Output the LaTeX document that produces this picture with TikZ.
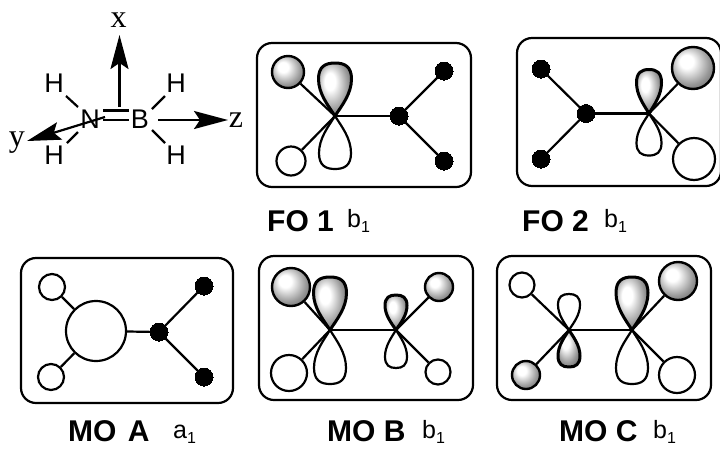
\documentclass[tikz,border=0pt]{standalone}
\usepackage{fontspec}
\setmainfont{Liberation Sans}
\newfontfamily\axisfont{Liberation Serif}
\usetikzlibrary{arrows.meta}
\pgfdeclareradialshading{orb}{\pgfpoint{-9bp}{9bp}}{color(0bp)=(white); color(8bp)=(white); color(24bp)=(black!40); color(38bp)=(black!68); color(50bp)=(black!78)}
\tikzset{
  x=1pt,y=-1pt,
  panel/.style={draw=black,line width=2.2pt,rounded corners=15pt},
  bond/.style={draw=black,line width=2.2pt},
  blackdot/.style={circle,fill=black,draw=black,line width=0pt,inner sep=0pt,minimum size=#1},
  whiteorb/.style={circle,fill=white,draw=black,line width=2.2pt,inner sep=0pt,minimum size=#1},
  grayorb/.style={circle,shading=orb,draw=black,line width=2.4pt,inner sep=0pt,minimum size=#1},
  whitelobe/.style={draw=black,line width=2.2pt,fill=white,line join=round},
  graylobe/.style={draw=black,line width=3pt,shading=orb,line join=round},
  atomlabel/.style={inner sep=0pt,font=\fontsize{27}{27}\selectfont},
  axislabel/.style={inner sep=0pt,font=\axisfont\fontsize{32}{32}\selectfont},
  axisarrow/.style={draw=black,line width=2.2pt,-{Stealth[length=34pt,width=18pt,inset=6pt]}},
  namelabel/.style={anchor=base west,inner sep=0pt,font=\bfseries\fontsize{30}{30}\selectfont},
  symlabel/.style={anchor=base west,inner sep=0pt,font=\fontsize{25}{25}\selectfont}
}
\newcommand{\subone}{\raisebox{-5pt}{\fontsize{16}{16}\selectfont 1}}
% x y halfwidth yscale (negative = upward) style
\newcommand{\lobeshape}[5]{%
  \begin{scope}[shift={(#1,#2)},xscale=#3,yscale=#4]
    \path[#5] (0,0) .. controls (-.42,.2) and (-1,.42) .. (-1,.7)
      .. controls (-1,.93) and (-.6,1) .. (0,1)
      .. controls (.6,1) and (1,.93) .. (1,.7)
      .. controls (1,.42) and (.42,.2) .. (0,0) -- cycle;
  \end{scope}}
\begin{document}
\begin{tikzpicture}
\useasboundingbox (0,0) rectangle (720,448);
\fill[white] (0,0) rectangle (720,448);

% axes
\node[atomlabel] (N) at (90,119.5) {N};
\node[atomlabel] (B) at (140,119.5) {B};
\node[atomlabel] (H1) at (54,83) {H};
\node[atomlabel] (H2) at (54,155) {H};
\node[atomlabel] (H3) at (176,83) {H};
\node[atomlabel] (H4) at (176,155) {H};
\node[axislabel] (xl) at (118.5,20) {x};
\node[axislabel] (yl) at (17,143) {y};
\node[axislabel] (zl) at (236,120) {z};
\coordinate (xs) at (119.5,107); \coordinate (xe) at (119.5,35);
\coordinate (ys) at (105,117); \coordinate (ye) at (27,141);
\coordinate (zs) at (158,120); \coordinate (ze) at (228,120);
\coordinate (d1a) at (103,110.5); \coordinate (d1b) at (128.5,110.5);
\coordinate (d2a) at (103,120); \coordinate (d2b) at (128.5,120);
\coordinate (h1a) at (66,96); \coordinate (h1b) at (78,107);
\coordinate (h2a) at (67,143); \coordinate (h2b) at (78,132);
\coordinate (h3a) at (165,96); \coordinate (h3b) at (152,109);
\coordinate (h4a) at (165,143); \coordinate (h4b) at (152,130);
\draw[bond] (d1a) -- (d1b);
\draw[bond] (d2a) -- (d2b);
\draw[bond] (h1a) -- (h1b);
\draw[bond] (h2a) -- (h2b);
\draw[bond] (h3a) -- (h3b);
\draw[bond] (h4a) -- (h4b);
\draw[axisarrow] (xs) -- (xe);
\draw[axisarrow] (ys) -- (ye);
\draw[axisarrow] (zs) -- (ze);

% FO 1
\draw[panel] (257,43) rectangle (471,187);
\coordinate (a1) at (335,116);
\node[blackdot=18pt] (a2) at (399,116) {};
\node[blackdot=18pt] (a3) at (444,71) {};
\node[blackdot=18pt] (a4) at (444,161) {};
\node[grayorb=32pt] (a5) at (288,72) {};
\node[whiteorb=29pt] (a6) at (291,161) {};
\draw[bond] (a1) -- (a2); \draw[bond] (a2) -- (a3); \draw[bond] (a2) -- (a4);
\draw[bond] (a1) -- (a5); \draw[bond] (a1) -- (a6);
\lobeshape{335}{116}{16.5}{-53}{graylobe}
\lobeshape{335}{116}{16}{53}{whitelobe}
\node[namelabel] (al) at (267,231) {FO 1};
\node[symlabel] (as) at (347,227) {b\subone};

% FO 2
\draw[panel] (517,38) rectangle (721,186);
\node[blackdot=18pt] (b1) at (586,113.5) {};
\node[blackdot=18pt] (b2) at (541,69) {};
\node[blackdot=18pt] (b3) at (541,159) {};
\coordinate (b4) at (649,113.5);
\node[grayorb=42pt] (b5) at (693,68) {};
\node[whiteorb=42pt] (b6) at (694,159) {};
\draw[bond] (b1) -- (b2); \draw[bond] (b1) -- (b3); \draw[bond] (b1) -- (b4);
\draw[bond] (b4) -- (b5); \draw[bond] (b4) -- (b6);
\lobeshape{649}{113.5}{12.5}{-44}{graylobe}
\lobeshape{649}{113.5}{12.5}{42}{whitelobe}
\node[namelabel] (bl) at (522,231) {FO 2};
\node[symlabel] (bs) at (604,227) {b\subone};

% MO A
\draw[panel] (21,258) rectangle (233,403);
\node[whiteorb=60pt] (c1) at (96,331) {};
\node[whiteorb=26pt] (c2) at (52,287) {};
\node[whiteorb=26pt] (c3) at (51,377) {};
\node[blackdot=18pt] (c4) at (159,332) {};
\node[blackdot=18pt] (c5) at (204,286) {};
\node[blackdot=18pt] (c6) at (204,377) {};
\draw[bond] (c1) -- (c2); \draw[bond] (c1) -- (c3); \draw[bond] (c1) -- (c4);
\draw[bond] (c4) -- (c5); \draw[bond] (c4) -- (c6);
\node[namelabel] (cl) at (68,441) {MO\hspace{3pt} A};
\node[symlabel] (cs) at (173,438) {a\subone};

% MO B
\draw[panel] (259,256) rectangle (473,400);
\coordinate (d1) at (330,330);
\coordinate (d2) at (396,330);
\node[grayorb=38pt] (d3) at (291,287) {};
\node[whiteorb=36pt] (d4) at (289,373) {};
\node[grayorb=28pt] (d5) at (439,287) {};
\node[whiteorb=25pt] (d6) at (438,372) {};
\draw[bond] (d1) -- (d2); \draw[bond] (d1) -- (d3); \draw[bond] (d1) -- (d4);
\draw[bond] (d2) -- (d5); \draw[bond] (d2) -- (d6);
\lobeshape{330}{330}{16.5}{-53}{graylobe}
\lobeshape{330}{330}{16}{54}{whitelobe}
\lobeshape{396}{330}{11}{-35}{graylobe}
\lobeshape{396}{330}{11}{38}{whitelobe}
\node[namelabel] (dl) at (327,441) {MO B};
\node[symlabel] (ds) at (422,438) {b\subone};

% MO C
\draw[panel] (497,256) rectangle (711,400);
\coordinate (e1) at (569,330);
\coordinate (e2) at (632,330);
\node[whiteorb=25pt] (e3) at (522,285) {};
\node[grayorb=28pt] (e4) at (526,375) {};
\node[grayorb=38pt] (e5) at (678,281) {};
\node[whiteorb=36pt] (e6) at (677,375) {};
\draw[bond] (e1) -- (e2); \draw[bond] (e1) -- (e3); \draw[bond] (e1) -- (e4);
\draw[bond] (e2) -- (e5); \draw[bond] (e2) -- (e6);
\lobeshape{569}{330}{11}{-36}{whitelobe}
\lobeshape{569}{330}{11}{37}{graylobe}
\lobeshape{632}{330}{16}{-53}{graylobe}
\lobeshape{632}{330}{16}{54}{whitelobe}
\node[namelabel] (el) at (559,441) {MO C};
\node[symlabel] (es) at (653,438) {b\subone};
\end{tikzpicture}
\end{document}
